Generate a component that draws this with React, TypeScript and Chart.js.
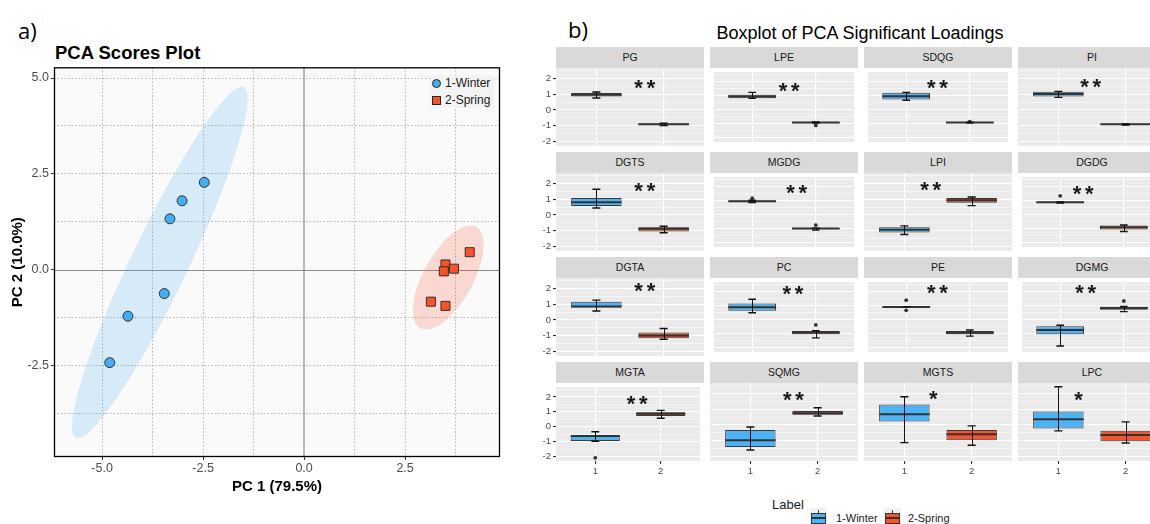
import React, { useEffect, useRef } from 'react';
import { Chart, registerables } from 'chart.js';

Chart.register(...registerables);

const SANS = "'Liberation Sans', Arial, Helvetica, sans-serif";
Chart.defaults.font.family = SANS;

// ---------------- a) PCA scores plot data ----------------
const seasonLabels = ['1-Winter', '2-Spring'];
const winterPC1 = [-2.47, -3.02, -3.32, -3.46, -4.36, -4.81];
const winterPC2 = [2.28, 1.8, 1.33, -0.62, -1.21, -2.42];
const springPC1 = [4.1, 3.5, 3.46, 3.71, 3.14, 3.5];
const springPC2 = [0.46, 0.14, -0.04, 0.03, -0.83, -0.94];
// confidence ellipses: [centerX, centerY, axis1X, axis1Y, axis2X, axis2Y] in data units
const winterEllipse = [-3.57, 0.19, 2.08, 4.57, 0.636, -0.32];
const springEllipse = [3.57, -0.2, 0.69, 1.32, 0.54, -0.31];
const pc1GridTicks = [-5, -3.75, -2.5, -1.25, 0, 1.25, 2.5, 3.75];
const pc2GridTicks = [-3.75, -2.5, -1.25, 0, 1.25, 2.5, 3.75, 5];
const pc1Range = [-6.19, 4.85];
const pc2Range = [-4.88, 5.28];

// ---------------- b) Boxplot data ----------------
const lipidClasses = ['PG', 'LPE', 'SDQG', 'PI', 'DGTS', 'MGDG', 'LPI', 'DGDG', 'DGTA', 'PC', 'PE', 'DGMG', 'MGTA', 'SQMG', 'MGTS', 'LPC'];
const groupPositions = [1, 2];
const groupTickLabels = ['1', '2'];

const winterQ1 = [0.85, 0.8, 0.72, 0.85, 0.57, 0.88, -1.12, 0.82, 0.79, 0.62, 0.89, -1.04, -0.96, -1.4, 0.21, -0.23];
const winterMedian = [0.97, 0.93, 0.95, 1.01, 0.8, 0.95, -0.95, 0.87, 0.85, 0.87, 0.89, -0.74, -0.62, -0.98, 0.68, 0.36];
const winterQ3 = [1.08, 1.06, 1.2, 1.16, 1.08, 1.0, -0.78, 0.9, 1.15, 1.15, 0.89, -0.47, -0.57, -0.32, 1.3, 0.85];
const winterLow = [0.76, 0.8, 0.66, 0.8, 0.44, 0.86, -1.25, 0.82, 0.57, 0.49, 0.89, -1.87, -0.98, -1.6, -1.13, -0.38];
const winterHigh = [1.14, 1.22, 1.22, 1.18, 1.63, 1.02, -0.7, 0.9, 1.26, 1.45, 0.89, -0.4, -0.34, -0.13, 1.79, 2.43];
const winterOutliers = [[], [], [], [], [], [1.16], [], [1.33], [], [], [1.38, 0.66], [], [-2.09], [], [], []];

const springQ1 = [-0.98, -0.96, -0.93, -0.96, -1.06, -1.01, 0.78, -1.06, -1.17, -1.04, -1.04, 0.7, 0.72, 0.64, -0.98, -1.04];
const springMedian = [-0.92, -0.92, -0.91, -0.92, -0.89, -0.99, 0.93, -0.89, -1.0, -0.91, -0.94, 0.83, 0.87, 0.74, -0.6, -0.64];
const springQ3 = [-0.87, -0.88, -0.9, -0.88, -0.78, -0.97, 1.08, -0.78, -0.81, -0.81, -0.81, 0.91, 0.98, 0.89, -0.32, -0.38];
const springLow = [-1.0, -0.96, -0.93, -0.97, -1.14, -1.1, 0.59, -1.2, -1.23, -1.3, -1.17, 0.57, 0.57, 0.57, -1.3, -1.15];
const springHigh = [-0.85, -0.88, -0.9, -0.89, -0.72, -0.97, 1.14, -0.74, -0.55, -0.79, -0.74, 0.94, 1.1, 1.09, -0.06, 0.19];
const springOutliers = [[], [-1.12], [-0.86], [], [], [-0.74], [], [], [], [-0.38], [], [1.32], [], [], [], []];

const sigLabels = ['**', '**', '**', '**', '**', '**', '**', '**', '**', '**', '**', '**', '**', '**', '*', '*'];
const sigX = [1.72, 1.58, 1.49, 1.48, 1.72, 1.7, 1.39, 1.36, 1.72, 1.64, 1.49, 1.4, 1.64, 1.64, 1.43, 1.3];
const sigY = [1.73, 1.73, 1.9, 1.8, 1.85, 1.92, 1.92, 1.85, 2.2, 2.2, 2.27, 2.27, 1.91, 1.91, 2.0, 1.91];

const loadingTicks = [-2, -1.5, -1, -0.5, 0, 0.5, 1, 1.5, 2, 2.5];
const loadingRange = [-2.3, 2.67];

// ---------------- styling / layout ----------------
const WINTER_COLOR = '#4EB3F5';
const SPRING_COLOR = '#F5552E';
const PANEL_X = [556, 710, 864, 1018];
const PANEL_TOP = [47, 152, 257, 362];
const STRIP_H = 21;
const PANEL_W = 148;
const PANEL_H = 78;

const isMajorPC = (v: number) => Math.abs(v / 2.5 - Math.round(v / 2.5)) < 1e-9;

function PcaScores() {
  const ref = useRef<HTMLCanvasElement>(null);
  useEffect(() => {
    const drawEllipse = (chart: any, e: number[], color: string) => {
      const { ctx, scales } = chart;
      const xs = scales.x, ys = scales.y;
      const [cx, cy, ax, ay, bx, by] = e;
      const px = xs.getPixelForValue(cx), py = ys.getPixelForValue(cy);
      const uax = xs.getPixelForValue(cx + ax) - px, uay = ys.getPixelForValue(cy + ay) - py;
      const ubx = xs.getPixelForValue(cx + bx) - px, uby = ys.getPixelForValue(cy + by) - py;
      ctx.save();
      ctx.beginPath();
      ctx.transform(uax, uay, ubx, uby, px, py);
      ctx.arc(0, 0, 1, 0, Math.PI * 2);
      ctx.restore();
      ctx.save();
      ctx.fillStyle = color;
      ctx.fill();
      ctx.restore();
    };
    const decor = {
      id: 'pcaDecor',
      beforeDraw(chart: any) {
        const { ctx, chartArea: a } = chart;
        ctx.save();
        ctx.fillStyle = '#FAFAFA';
        ctx.fillRect(a.left, a.top, a.width, a.height);
        ctx.restore();
      },
      beforeDatasetsDraw(chart: any) {
        const { ctx, chartArea: a, scales } = chart;
        ctx.save();
        const zx = Math.round(scales.x.getPixelForValue(0));
        ctx.strokeStyle = '#A8A8A8';
        ctx.lineWidth = 1.6;
        ctx.beginPath();
        ctx.moveTo(zx, a.top);
        ctx.lineTo(zx, a.bottom);
        ctx.stroke();
        const zy = Math.round(scales.y.getPixelForValue(0)) + 0.5;
        ctx.strokeStyle = '#8A8A8A';
        ctx.lineWidth = 1;
        ctx.beginPath();
        ctx.moveTo(a.left, zy);
        ctx.lineTo(a.right, zy);
        ctx.stroke();
        ctx.restore();
        drawEllipse(chart, winterEllipse, 'rgba(70,170,240,0.2)');
        drawEllipse(chart, springEllipse, 'rgba(244,82,43,0.2)');
      },
      afterDatasetsDraw(chart: any) {
        const { ctx, chartArea: a } = chart;
        ctx.save();
        ctx.strokeStyle = '#000';
        ctx.lineWidth = 1.3;
        ctx.strokeRect(a.left + 0.5, a.top + 0.5, a.width - 1, a.height - 1);
        ctx.restore();
      },
    };
    const chart = new Chart(ref.current as HTMLCanvasElement, {
      type: 'scatter',
      data: {
        datasets: [
          {
            label: seasonLabels[0],
            data: winterPC1.map((x, i) => ({ x, y: winterPC2[i] })),
            pointStyle: 'circle',
            pointRadius: 5,
            pointBackgroundColor: '#47ADF2',
            pointBorderColor: '#262626',
            pointBorderWidth: 0.9,
          },
          {
            label: seasonLabels[1],
            data: springPC1.map((x, i) => ({ x, y: springPC2[i] })),
            pointStyle: 'rect',
            pointRadius: 6.4,
            pointBackgroundColor: '#F4532C',
            pointBorderColor: '#262626',
            pointBorderWidth: 0.9,
          },
        ],
      },
      options: {
        animation: false,
        responsive: false,
        events: [],
        layout: { padding: { top: 6, right: 10, left: 0, bottom: 0 } },
        plugins: { legend: { display: false }, tooltip: { enabled: false } },
        scales: {
          x: {
            type: 'linear',
            min: pc1Range[0],
            max: pc1Range[1],
            afterBuildTicks: (s: any) => { s.ticks = pc1GridTicks.map((v) => ({ value: v })); },
            afterFit: (s: any) => { s.height = 43; s.paddingLeft = 0; s.paddingRight = 0; },
            ticks: {
              callback: (v: any) => (isMajorPC(Number(v)) ? Number(v).toFixed(1) : ''),
              font: { size: 12.5 },
              color: '#4D4D4D',
              padding: 1,
              autoSkip: false,
              maxRotation: 0,
            },
            grid: {
              color: (c: any) => (c.tick && c.tick.value === 0 ? 'rgba(0,0,0,0)' : '#B5B5B5'),
              lineWidth: 1,
              tickLength: 3,
              tickColor: (c: any) => (c.tick && isMajorPC(c.tick.value) ? '#333' : 'rgba(0,0,0,0)'),
            },
            border: { display: false, dash: [1.5, 2] },
            title: { display: true, text: 'PC 1 (79.5%)', color: '#000', font: { size: 15, weight: 'bold' }, padding: { top: 0, bottom: 4 } },
          },
          y: {
            type: 'linear',
            min: pc2Range[0],
            max: pc2Range[1],
            afterBuildTicks: (s: any) => { s.ticks = pc2GridTicks.map((v) => ({ value: v })); },
            afterFit: (s: any) => { s.width = 54; s.paddingTop = 0; s.paddingBottom = 0; },
            ticks: {
              callback: (v: any) => (isMajorPC(Number(v)) ? Number(v).toFixed(1) : ''),
              font: { size: 12.5 },
              color: '#4D4D4D',
              padding: 2,
              autoSkip: false,
            },
            grid: {
              color: (c: any) => (c.tick && c.tick.value === 0 ? 'rgba(0,0,0,0)' : '#B5B5B5'),
              lineWidth: 1,
              tickLength: 3,
              tickColor: (c: any) => (c.tick && isMajorPC(c.tick.value) ? '#333' : 'rgba(0,0,0,0)'),
            },
            border: { display: false, dash: [1.5, 2] },
            title: { display: true, text: 'PC 2 (10.0%)', color: '#000', font: { size: 15, weight: 'bold' }, padding: { top: 9, bottom: 0 } },
          },
        },
      },
      plugins: [decor],
    } as any);
    return () => chart.destroy();
  }, []);
  return <canvas ref={ref} width={510} height={440} style={{ position: 'absolute', left: 0, top: 60, width: 510, height: 440 }} />;
}

function LoadingPanel({ index }: { index: number }) {
  const ref = useRef<HTMLCanvasElement>(null);
  const row = Math.floor(index / 4);
  const col = index % 4;
  const axisW = col === 0 ? 20 : 0;
  const axisH = row === 3 ? 16 : 0;
  useEffect(() => {
    const q1 = [winterQ1[index], springQ1[index]];
    const q3 = [winterQ3[index], springQ3[index]];
    const med = [winterMedian[index], springMedian[index]];
    const lo = [winterLow[index], springLow[index]];
    const hi = [winterHigh[index], springHigh[index]];
    const outliers = [
      ...winterOutliers[index].map((v) => ({ x: groupPositions[0], y: v })),
      ...springOutliers[index].map((v) => ({ x: groupPositions[1], y: v })),
    ];
    const decor = {
      id: 'panelDecor',
      beforeDraw(chart: any) {
        const { ctx, chartArea: a } = chart;
        ctx.save();
        ctx.fillStyle = '#EBEBEB';
        ctx.fillRect(a.left, a.top, a.width, a.height);
        ctx.restore();
      },
      afterDatasetsDraw(chart: any) {
        const { ctx, scales } = chart;
        const xs = scales.x, ys = scales.y;
        const meta = chart.getDatasetMeta(0);
        ctx.save();
        groupPositions.forEach((g, gi) => {
          const bar = meta.data[gi] as any;
          const half = bar.width / 2;
          const cx = xs.getPixelForValue(g);
          const my = ys.getPixelForValue(med[gi]);
          ctx.strokeStyle = '#333333';
          ctx.lineWidth = 2;
          ctx.beginPath();
          ctx.moveTo(cx - half, my);
          ctx.lineTo(cx + half, my);
          ctx.stroke();
          const vx = Math.round(cx) + 0.5;
          const yl = ys.getPixelForValue(lo[gi]);
          const yh = ys.getPixelForValue(hi[gi]);
          ctx.strokeStyle = '#111';
          ctx.lineWidth = 1;
          ctx.beginPath();
          ctx.moveTo(vx, yl);
          ctx.lineTo(vx, yh);
          ctx.stroke();
          const c0 = xs.getPixelForValue(g - 0.06);
          const c1 = xs.getPixelForValue(g + 0.06);
          ctx.lineWidth = 1.4;
          ctx.beginPath();
          ctx.moveTo(c0, yl);
          ctx.lineTo(c1, yl);
          ctx.moveTo(c0, yh);
          ctx.lineTo(c1, yh);
          ctx.stroke();
        });
        const label = sigLabels[index];
        const fs = 22;
        ctx.font = `bold ${fs}px ${SANS}`;
        ctx.fillStyle = '#1A1A1A';
        ctx.textAlign = 'center';
        ctx.textBaseline = 'alphabetic';
        const sx = xs.getPixelForValue(sigX[index]);
        const sy = ys.getPixelForValue(sigY[index]);
        const n = label.length;
        for (let k = 0; k < n; k++) {
          ctx.fillText(label[k], sx + (k - (n - 1) / 2) * 12.3, sy + 0.57 * fs);
        }
        ctx.restore();
      },
    };
    const chart = new Chart(ref.current as HTMLCanvasElement, {
      type: 'bar',
      data: {
        datasets: [
          {
            type: 'bar',
            data: groupPositions.map((g, gi) => ({ x: g, y: [q1[gi], q3[gi]] })),
            backgroundColor: [WINTER_COLOR, SPRING_COLOR],
            borderColor: '#3A3A3A',
            borderWidth: 1,
            borderSkipped: false,
            barPercentage: 0.75,
            categoryPercentage: 1,
          },
          {
            type: 'scatter',
            data: outliers,
            pointRadius: 1.9,
            pointBackgroundColor: '#333333',
            pointBorderWidth: 0,
          },
        ],
      },
      options: {
        animation: false,
        responsive: false,
        events: [],
        layout: { padding: 0 },
        plugins: { legend: { display: false }, tooltip: { enabled: false } },
        scales: {
          x: {
            type: 'linear',
            min: 0.4,
            max: 2.6,
            offset: false,
            afterBuildTicks: (s: any) => { s.ticks = groupPositions.map((v) => ({ value: v })); },
            afterFit: (s: any) => { s.height = axisH; s.paddingLeft = 0; s.paddingRight = 0; },
            ticks: {
              display: row === 3,
              callback: (_v: any, i: number) => groupTickLabels[i],
              font: { size: 9.5 },
              color: '#4D4D4D',
              padding: 2,
              autoSkip: false,
              maxRotation: 0,
            },
            grid: { color: '#FFFFFF', lineWidth: 1.1, drawTicks: row === 3, tickLength: 3, tickColor: '#333333', offset: false },
            border: { display: false },
          },
          y: {
            type: 'linear',
            min: loadingRange[0],
            max: loadingRange[1],
            afterBuildTicks: (s: any) => { s.ticks = loadingTicks.map((v) => ({ value: v })); },
            afterFit: (s: any) => { s.width = axisW; s.paddingTop = 0; s.paddingBottom = 0; },
            ticks: {
              display: col === 0,
              callback: (v: any) => (Number.isInteger(Number(v)) ? String(v) : ''),
              font: { size: 9.5 },
              color: '#4D4D4D',
              padding: 2,
              autoSkip: false,
            },
            grid: {
              color: '#FFFFFF',
              lineWidth: (c: any) => (c.tick && Number.isInteger(c.tick.value) ? 1.1 : 0.55),
              drawTicks: col === 0,
              tickLength: 3,
              tickColor: (c: any) => (c.tick && Number.isInteger(c.tick.value) ? '#333333' : 'rgba(0,0,0,0)'),
            },
            border: { display: false },
          },
        },
      },
      plugins: [decor],
    } as any);
    return () => chart.destroy();
  }, [index]);
  const w = PANEL_W + axisW;
  const h = PANEL_H + axisH;
  return (
    <canvas
      ref={ref}
      width={w}
      height={h}
      style={{ position: 'absolute', left: PANEL_X[col] - axisW, top: PANEL_TOP[row] + STRIP_H, width: w, height: h }}
    />
  );
}

function LegendKey({ left, color }: { left: number; color: string }) {
  return (
    <div style={{ position: 'absolute', left, top: 508, width: 17, height: 17, background: '#F2F2F2' }}>
      <div style={{ position: 'absolute', left: 8, top: 2, width: 1, height: 4, background: '#333' }} />
      <div style={{ position: 'absolute', left: 1, top: 5, width: 13, height: 9, border: '1px solid #333', background: color }} />
      <div style={{ position: 'absolute', left: 2, top: 9, width: 13, height: 2, background: '#333' }} />
    </div>
  );
}

export default function App() {
  return (
    <div style={{ position: 'absolute', left: 0, top: 0, width: 1150, height: 524, overflow: 'hidden', background: '#FFFFFF', fontFamily: SANS }}>
      <div style={{ position: 'absolute', left: 18, top: 15, height: 30, lineHeight: '30px', fontSize: 22, fontFamily: "'Open Sans', sans-serif", color: '#000' }}>a)</div>
      <div style={{ position: 'absolute', left: 568, top: 14, height: 30, lineHeight: '30px', fontSize: 22, fontFamily: "'Open Sans', sans-serif", color: '#000' }}>b)</div>
      <div style={{ position: 'absolute', left: 55, top: 40, height: 25, lineHeight: '25px', fontSize: 18.5, fontWeight: 'bold', color: '#000', whiteSpace: 'nowrap' }}>PCA Scores Plot</div>
      <div style={{ position: 'absolute', left: 660, top: 21, width: 400, height: 25, lineHeight: '25px', fontSize: 18, color: '#000', textAlign: 'center', whiteSpace: 'nowrap' }}>
        Boxplot of PCA Significant Loadings
      </div>

      <PcaScores />
      {/* in-plot legend */}
      <div style={{ position: 'absolute', left: 430, top: 75, width: 64, height: 33, background: '#F3F3F3' }} />
      <div style={{ position: 'absolute', left: 432, top: 79, width: 9, height: 9, borderRadius: '50%', background: '#47ADF2', border: '0.8px solid #262626', boxSizing: 'border-box' }} />
      <div style={{ position: 'absolute', left: 432, top: 95.5, width: 9, height: 9, background: '#F4532C', border: '0.8px solid #262626', boxSizing: 'border-box' }} />
      <div style={{ position: 'absolute', left: 445, top: 76, height: 15, lineHeight: '15px', fontSize: 12, color: '#1A1A1A', whiteSpace: 'nowrap' }}>{seasonLabels[0]}</div>
      <div style={{ position: 'absolute', left: 445, top: 92.5, height: 15, lineHeight: '15px', fontSize: 12, color: '#1A1A1A', whiteSpace: 'nowrap' }}>{seasonLabels[1]}</div>

      {lipidClasses.map((name, i) => (
        <div
          key={'strip' + i}
          style={{
            position: 'absolute',
            left: PANEL_X[i % 4],
            top: PANEL_TOP[Math.floor(i / 4)],
            width: PANEL_W,
            height: STRIP_H,
            lineHeight: STRIP_H + 'px',
            background: '#D9D9D9',
            color: '#1A1A1A',
            fontSize: 10.5,
            textAlign: 'center',
          }}
        >
          {name}
        </div>
      ))}
      {lipidClasses.map((_n, i) => (
        <LoadingPanel key={'panel' + i} index={i} />
      ))}

      <div style={{ position: 'absolute', left: 772, top: 497, height: 16, lineHeight: '16px', fontSize: 13, color: '#1A1A1A' }}>Label</div>
      <LegendKey left={810} color={WINTER_COLOR} />
      <div style={{ position: 'absolute', left: 836, top: 511, height: 14, lineHeight: '14px', fontSize: 11, color: '#1A1A1A', whiteSpace: 'nowrap' }}>{seasonLabels[0]}</div>
      <LegendKey left={884} color={SPRING_COLOR} />
      <div style={{ position: 'absolute', left: 908, top: 511, height: 14, lineHeight: '14px', fontSize: 11, color: '#1A1A1A', whiteSpace: 'nowrap' }}>{seasonLabels[1]}</div>
    </div>
  );
}
